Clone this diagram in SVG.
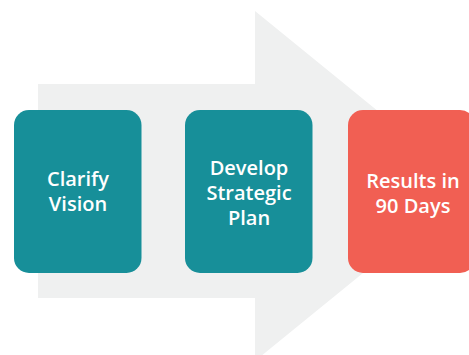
<svg xmlns="http://www.w3.org/2000/svg" width="469" height="355" viewBox="0 0 469 355">
  <style>
    .step { fill: #178f99; }
    .goal { fill: #f15f53; }
    .label { fill: #ffffff; font-family: "Open Sans", "Noto Sans", sans-serif; font-size: 20px; font-weight: 600; text-anchor: middle; }
  </style>
  <rect width="469" height="355" fill="#ffffff"/>
  <!-- big background arrow -->
  <g id="connectors">
    <path d="M38 84 H255 V11 L470 186 L255 361 V298 H38 Z" fill="#eff0f0"/>
  </g>
  <g id="clarify-vision">
    <rect class="step" x="14" y="110" width="127.5" height="163" rx="15"/>
    <text class="label" x="78" y="186">Clarify</text>
    <text class="label" x="78" y="211">Vision</text>
  </g>
  <g id="develop-strategic-plan">
    <rect class="step" x="185" y="110" width="127.5" height="163" rx="15"/>
    <text class="label" x="249" y="175">Develop</text>
    <text class="label" x="249" y="200">Strategic</text>
    <text class="label" x="249" y="225">Plan</text>
  </g>
  <g id="results-in-90-days">
    <rect class="goal" x="348" y="110" width="127" height="163" rx="15"/>
    <text class="label" x="413" y="188">Results in</text>
    <text class="label" x="413" y="213">90 Days</text>
  </g>
</svg>
